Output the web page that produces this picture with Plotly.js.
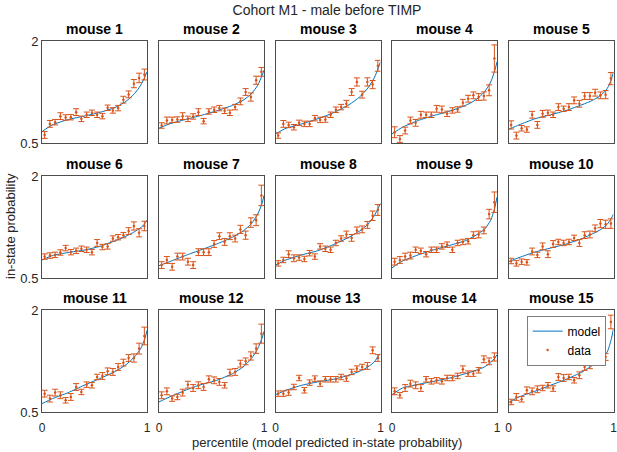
<!DOCTYPE html>
<html>
<head>
<meta charset="utf-8">
<script src="https://cdn.plot.ly/plotly-3.0.1.min.js"></script>
<style>html,body{margin:0;padding:0;background:#fff;}#chart{width:617px;height:452px;}</style>
</head>
<body>
<div id="chart"></div>
<script>
// ---- data ----
const mouseNames = ["mouse 1","mouse 2","mouse 3","mouse 4","mouse 5","mouse 6","mouse 7","mouse 8","mouse 9","mouse 10","mouse 11","mouse 12","mouse 13","mouse 14","mouse 15"];
const percentile = [0.025,0.075,0.125,0.175,0.225,0.275,0.325,0.375,0.425,0.475,0.525,0.575,0.625,0.675,0.725,0.775,0.825,0.875,0.925,0.975];
const modelX = [0,0.1,0.25,0.4,0.55,0.7,0.8,0.88,0.94,0.98,1];
const xTicks = [0,1];
const yTicks = [0.5,2];
const yTickText = ["0.5","2"];

const m1Data = [0.618,0.781,0.806,0.895,0.875,0.880,0.954,0.855,0.915,0.944,0.915,0.895,1.018,0.979,1.013,1.137,1.215,1.373,1.457,1.507];
const m1Err  = [0.05,0.05,0.04,0.05,0.04,0.04,0.05,0.04,0.04,0.04,0.04,0.04,0.04,0.04,0.04,0.05,0.05,0.06,0.07,0.08];
const m1Model = [0.668,0.767,0.845,0.895,0.950,1.025,1.112,1.225,1.349,1.472,1.546];

const m2Data = [0.757,0.831,0.840,0.845,0.895,0.855,0.890,0.954,0.821,0.964,0.989,1.013,0.974,0.944,1.028,1.112,1.250,1.176,1.423,1.546];
const m2Err  = [0.04,0.05,0.04,0.04,0.05,0.04,0.04,0.05,0.04,0.04,0.04,0.04,0.04,0.04,0.04,0.05,0.05,0.06,0.06,0.065];
const m2Model = [0.717,0.781,0.845,0.905,0.974,1.053,1.127,1.225,1.349,1.487,1.571];

const m3Data = [0.609,0.781,0.766,0.732,0.796,0.781,0.781,0.865,0.840,0.845,0.915,0.989,1.028,1.077,1.250,1.398,1.211,1.398,1.359,1.635];
const m3Err  = [0.04,0.05,0.04,0.04,0.04,0.04,0.04,0.04,0.04,0.04,0.04,0.04,0.04,0.05,0.05,0.06,0.05,0.06,0.06,0.08];
const m3Model = [0.633,0.717,0.781,0.855,0.944,1.063,1.176,1.309,1.457,1.605,1.694];

const m4Data = [0.658,0.559,0.683,0.831,0.796,0.915,0.915,0.915,1.003,0.993,0.929,0.979,0.993,1.092,1.151,1.201,1.176,1.191,1.275,1.743];
const m4Err  = [0.08,0.05,0.05,0.05,0.05,0.05,0.04,0.04,0.05,0.05,0.04,0.04,0.04,0.05,0.05,0.05,0.05,0.06,0.08,0.20];
const m4Model = [0.633,0.732,0.831,0.905,0.969,1.053,1.137,1.250,1.398,1.571,1.694];

const m5Data = [0.766,0.609,0.717,0.698,0.915,0.766,0.929,0.944,0.915,1.028,1.003,1.028,1.127,1.077,1.191,1.191,1.240,1.201,1.211,1.447];
const m5Err  = [0.06,0.05,0.04,0.04,0.05,0.05,0.05,0.04,0.04,0.05,0.04,0.05,0.05,0.05,0.05,0.05,0.05,0.05,0.06,0.09];
const m5Model = [0.698,0.766,0.855,0.915,0.979,1.063,1.127,1.201,1.300,1.437,1.546];

const m6Data = [0.815,0.830,0.840,0.875,0.940,0.880,0.900,0.930,0.915,0.880,1.015,0.955,0.965,1.080,1.100,1.130,1.190,1.265,1.165,1.265];
const m6Err  = [0.04,0.04,0.04,0.04,0.04,0.04,0.04,0.04,0.04,0.04,0.05,0.04,0.04,0.04,0.04,0.04,0.05,0.06,0.06,0.07];
const m6Model = [0.765,0.830,0.875,0.910,0.965,1.050,1.115,1.180,1.240,1.300,1.350];

const m7Data = [0.690,0.765,0.665,0.815,0.815,0.740,0.690,0.880,0.880,0.880,1.000,1.115,1.030,1.115,1.080,1.215,1.130,1.315,1.350,1.715];
const m7Err  = [0.05,0.05,0.05,0.05,0.05,0.05,0.05,0.05,0.05,0.05,0.05,0.05,0.05,0.05,0.05,0.06,0.06,0.07,0.08,0.15];
const m7Model = [0.680,0.740,0.830,0.915,1.000,1.100,1.190,1.300,1.440,1.590,1.715];

const m8Data = [0.715,0.765,0.850,0.790,0.800,0.780,0.865,0.815,0.965,0.930,0.915,1.015,1.080,1.140,1.090,1.200,1.215,1.280,1.415,1.500];
const m8Err  = [0.04,0.04,0.05,0.05,0.04,0.04,0.04,0.04,0.04,0.04,0.04,0.04,0.04,0.05,0.05,0.05,0.05,0.05,0.07,0.08];
const m8Model = [0.690,0.765,0.840,0.900,0.990,1.100,1.190,1.290,1.415,1.530,1.600];

const m9Data = [0.740,0.765,0.815,0.830,0.915,0.900,0.850,0.915,0.915,0.965,0.990,0.915,1.015,1.030,1.040,1.130,1.140,1.200,1.440,1.615];
const m9Err  = [0.05,0.05,0.05,0.05,0.04,0.04,0.04,0.04,0.04,0.04,0.04,0.04,0.04,0.04,0.04,0.05,0.05,0.05,0.07,0.15];
const m9Model = [0.650,0.750,0.840,0.915,0.980,1.050,1.130,1.215,1.350,1.540,1.690];

const m10Data = [0.750,0.715,0.740,0.730,0.890,0.840,0.965,0.850,1.000,1.030,1.015,1.030,1.090,1.015,1.130,1.140,1.230,1.300,1.290,1.300];
const m10Err  = [0.04,0.04,0.04,0.04,0.05,0.04,0.05,0.05,0.05,0.04,0.04,0.04,0.04,0.05,0.05,0.05,0.05,0.06,0.06,0.07];
const m10Model = [0.740,0.800,0.880,0.940,1.000,1.080,1.150,1.215,1.290,1.380,1.440];

const m11Data = [0.770,0.697,0.785,0.746,0.672,0.721,0.868,0.795,0.902,0.893,1.015,1.030,1.098,1.089,1.162,1.226,1.294,1.294,1.432,1.618];
const m11Err  = [0.05,0.05,0.05,0.05,0.04,0.05,0.05,0.04,0.04,0.04,0.04,0.05,0.05,0.05,0.05,0.05,0.05,0.06,0.08,0.13];
const m11Model = [0.623,0.697,0.785,0.893,0.991,1.098,1.196,1.309,1.432,1.579,1.701];

const m12Data = [0.746,0.804,0.697,0.721,0.785,0.902,0.853,0.893,0.868,0.981,0.966,0.942,0.893,1.079,1.089,1.211,1.245,1.324,1.432,1.652];
const m12Err  = [0.05,0.05,0.04,0.04,0.05,0.05,0.05,0.05,0.05,0.05,0.05,0.05,0.04,0.05,0.05,0.05,0.05,0.06,0.07,0.14];
const m12Model = [0.648,0.721,0.819,0.902,0.966,1.064,1.162,1.285,1.432,1.579,1.686];

const m13Data = [0.770,0.770,0.785,0.868,1.000,0.819,0.932,0.991,0.917,0.981,0.981,0.981,1.015,0.991,1.089,1.138,1.162,1.177,1.407,1.294];
const m13Err  = [0.04,0.04,0.04,0.04,0.04,0.04,0.04,0.04,0.04,0.04,0.04,0.04,0.04,0.04,0.04,0.04,0.04,0.05,0.05,0.05];
const m13Model = [0.755,0.819,0.893,0.942,0.981,1.040,1.098,1.162,1.236,1.324,1.358];

const m14Data = [0.804,0.746,0.853,0.917,0.893,0.853,0.981,0.951,0.966,0.951,1.000,1.000,1.030,1.128,1.064,1.064,1.113,1.275,1.245,1.309];
const m14Err  = [0.05,0.04,0.05,0.05,0.05,0.05,0.04,0.04,0.04,0.04,0.04,0.04,0.04,0.05,0.04,0.04,0.04,0.05,0.05,0.06];
const m14Model = [0.755,0.853,0.907,0.951,1.000,1.064,1.113,1.162,1.226,1.294,1.343];

const m15Data = [0.648,0.721,0.687,0.819,0.804,0.834,0.853,0.893,0.844,1.015,1.000,1.015,0.966,1.040,1.162,1.187,1.245,1.294,1.309,1.824];
const m15Err  = [0.04,0.05,0.04,0.05,0.05,0.05,0.04,0.04,0.04,0.05,0.05,0.04,0.04,0.05,0.05,0.05,0.05,0.05,0.05,0.10];
const m15Model = [0.638,0.721,0.804,0.893,0.981,1.089,1.187,1.285,1.383,1.579,1.726];

const allData  = [m1Data,m2Data,m3Data,m4Data,m5Data,m6Data,m7Data,m8Data,m9Data,m10Data,m11Data,m12Data,m13Data,m14Data,m15Data];
const allErr   = [m1Err,m2Err,m3Err,m4Err,m5Err,m6Err,m7Err,m8Err,m9Err,m10Err,m11Err,m12Err,m13Err,m14Err,m15Err];
const allModel = [m1Model,m2Model,m3Model,m4Model,m5Model,m6Model,m7Model,m8Model,m9Model,m10Model,m11Model,m12Model,m13Model,m14Model,m15Model];

// ---- layout geometry (px) ----
const W = 617, H = 452;
const colLeft = [42, 159, 275.5, 392, 508.5];
const rowTop = [41, 176, 310];
const pw = 105, ph = 102;
const FONT = "Liberation Sans, Arial, Helvetica, sans-serif";
const blue = "#0072BD", orange = "#D95319";

const traces = [];
const layout = {
  width: W, height: H,
  margin: {l:0, r:0, t:0, b:0},
  paper_bgcolor: "#fff", plot_bgcolor: "#fff",
  font: {family: FONT, size: 13, color: "#262626"},
  showlegend: true,
  legend: {
    x: 527/W, y: 1 - 316/H, xanchor: "left", yanchor: "top",
    bgcolor: "#fff", bordercolor: "#262626", borderwidth: 0.6,
    font: {family: FONT, size: 12, color: "#000"},
    tracegroupgap: 0, itemwidth: 30, valign: "middle"
  },
  title: {text: "Cohort M1 - male before TIMP", x: 327/W, xanchor: "center", y: 1 - 10/H, yanchor: "middle",
          font: {family: FONT, size: 14, color: "#262626"}},
  annotations: [],
};

for (let i = 0; i < 15; i++) {
  const r = Math.floor(i/5), c = i % 5;
  const sfx = i === 0 ? "" : String(i+1);
  const xa = "x" + sfx, ya = "y" + sfx;
  const isLegend = (i === 14);
  traces.push({
    type: "scatter", mode: "lines", x: modelX, y: allModel[i],
    xaxis: xa, yaxis: ya, name: "model",
    line: {color: blue, width: 1, shape: "spline", smoothing: 0.6},
    showlegend: isLegend, hoverinfo: "skip"
  });
  traces.push({
    type: "scatter", mode: "markers", x: percentile, y: allData[i],
    xaxis: xa, yaxis: ya, name: "data",
    marker: {color: orange, size: 2.5},
    error_y: {type: "data", array: allErr[i], visible: true, color: orange, thickness: 1, width: 3},
    showlegend: isLegend, hoverinfo: "skip"
  });
  const x0 = colLeft[c], y0 = rowTop[r];
  layout["xaxis" + sfx] = {
    domain: [x0/W, (x0+pw)/W], anchor: ya, range: [0,1],
    showgrid: false, zeroline: false, showline: true, mirror: true,
    linecolor: "#4d4d4d", linewidth: 1, ticks: "",
    tickvals: xTicks, ticktext: xTicks.map(String),
    showticklabels: r === 2, tickfont: {family: FONT, size: 12, color: "#262626"},
    ticklabeloverflow: "allow", ticklabelstandoff: 5,
    fixedrange: true
  };
  layout["yaxis" + sfx] = {
    domain: [1 - (y0+ph)/H, 1 - y0/H], anchor: xa, range: [0.5,2],
    showgrid: false, zeroline: false, showline: true, mirror: true,
    linecolor: "#4d4d4d", linewidth: 1, ticks: "",
    tickvals: yTicks, ticktext: yTickText,
    showticklabels: c === 0, tickfont: {family: FONT, size: 13, color: "#262626"},
    ticklabeloverflow: "allow",
    fixedrange: true
  };
  layout.annotations.push({
    text: "<b>" + mouseNames[i] + "</b>", xref: "paper", yref: "paper",
    x: (x0 + pw/2)/W, y: 1 - (y0 - 12)/H, xanchor: "center", yanchor: "middle",
    showarrow: false, font: {family: FONT, size: 14, color: "#000"}
  });
}
layout.annotations.push({
  text: "percentile (model predicted in-state probability)", xref: "paper", yref: "paper",
  x: 327/W, y: 1 - 442/H, xanchor: "center", yanchor: "middle", showarrow: false,
  font: {family: FONT, size: 13, color: "#262626"}
});
layout.annotations.push({
  text: "in-state probability", xref: "paper", yref: "paper", textangle: -90,
  x: 10/W, y: 1 - 226/H, xanchor: "center", yanchor: "middle", showarrow: false,
  font: {family: FONT, size: 13, color: "#262626"}
});

Plotly.newPlot("chart", traces, layout, {displayModeBar: false, staticPlot: true});
</script>
</body>
</html>
